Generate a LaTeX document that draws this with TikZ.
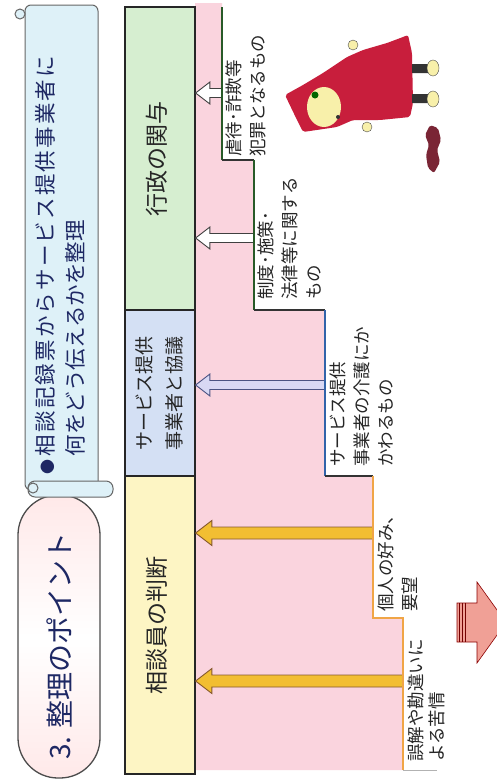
\documentclass[tikz,border=0pt]{standalone}
\usepackage{fontspec}
\setmainfont{Noto Sans CJK JP}
\usepackage{tikz}
\usetikzlibrary{calc}

\definecolor{memo}{RGB}{222,241,248}
\definecolor{navy}{RGB}{30,40,100}
\definecolor{kgreen}{RGB}{214,238,208}
\definecolor{kblue}{RGB}{212,224,244}
\definecolor{kyellow}{RGB}{253,245,196}
\definecolor{rosa}{RGB}{250,212,222}
\definecolor{dgreen}{RGB}{40,90,40}
\definecolor{sblue}{RGB}{50,100,170}
\definecolor{sorange}{RGB}{240,165,70}
\definecolor{lilac}{RGB}{216,216,244}
\definecolor{gold}{RGB}{242,190,50}
\definecolor{salmon}{RGB}{240,160,150}
\definecolor{hood}{RGB}{200,30,60}
\definecolor{skin}{RGB}{248,240,170}
\definecolor{maroon}{RGB}{122,37,53}

% vertical (rotated) lines of text
\newcommand{\vlines}[1]{\rotatebox{90}{\begin{tabular}{@{}l@{}}#1\end{tabular}}}
% block arrow: [style]{tail}{tip}{shaft half width}{head half width}
\newcommand{\fatarrow}[5][]{%
  \filldraw[#1] ($(#2)+(0,-#4)$) -- ($(#3)+({1.3*#5},-#4)$) -- ($(#3)+({1.3*#5},-#5)$) -- (#3)
    -- ($(#3)+({1.3*#5},#5)$) -- ($(#3)+({1.3*#5},#4)$) -- ($(#2)+(0,#4)$) -- cycle;}

\begin{document}
\begin{tikzpicture}[x=1pt, y=-1pt, thick,
        colbox/.style={draw=black!85, line width=1.2pt, minimum width=70pt, inner sep=0pt, text=black!85},
        steplabel/.style={anchor=south west, inner sep=0pt, text=black!85, font=\fontsize{17.5}{24}\selectfont},
        stepline/.style={line width=1.6pt},
        hollow/.style={fill=white, draw=black!75, line width=0.9pt},
        golden/.style={fill=gold, draw=brown!70!black, line width=0.9pt}]
        \useasboundingbox (0,0) rectangle (497,782);
        \clip (0,0) rectangle (497,782);
        \fill [white] (0,0) rectangle (497,782);

        % title pill and memo scroll
        \draw [draw=black!70, line width=1.3pt, rounded corners=40pt, top color=pink!35, bottom color=pink!35, middle color=white]
            (18,495) rectangle (100,778);
        \node[font=\fontsize{28}{30}\selectfont, text=navy] (title) at (59,646) {\rotatebox{90}{3. 整理のポイント}};

        \draw [fill=memo, draw=black!60, line width=1pt, rounded corners=6pt] (25,5) rectangle (98,490);
        \draw [fill=memo, draw=black!60, line width=1pt] (20,14) circle (5pt);
        \draw [fill=memo, draw=black!60, line width=1pt, rounded corners=7pt] (28,481) rectangle (113,497);
        \draw [fill=memo, draw=black!60, line width=1pt] (33,488) circle (5pt);
        \node[anchor=south west, inner sep=0pt, text=navy, font=\fontsize{21.5}{30}\selectfont] (memo) at (32,475)
            {\vlines{{\fontsize{15}{30}\selectfont ●}\,{\addfontfeature{LetterSpace=10}相談記録票からサービス提供事業者に}\\
                     \hphantom{{\fontsize{15}{30}\selectfont ●}\,}何をどう伝えるかを整理}};

        % staircase
        \coordinate (p0) at (222,7);
        \coordinate (p1) at (222,160);
        \coordinate (p2) at (254,160);
        \coordinate (p3) at (254,310);
        \coordinate (p4) at (325,310);
        \coordinate (p5) at (325,476);
        \coordinate (p6) at (373,476);
        \coordinate (p7) at (373,618);
        \coordinate (p8) at (403,618);
        \coordinate (p9) at (403,770);
        \fill [rosa] (195,3) -- (222,3) -- (p1) -- (p2) -- (p3) -- (p4) -- (p5) -- (p6) -- (p7) -- (p8) -- (p9) -- (195,770) -- cycle;

        % the three columns
        \node[colbox, fill=kgreen, minimum height=303pt, font=\fontsize{23}{28}\selectfont] (gyosei) at (160,158.5) {\vlines{行政の関与}};
        \node[colbox, fill=kblue, minimum height=166pt, font=\fontsize{19}{30}\selectfont] (kyogi) at (160,393) {\vlines{サービス提供\\事業者と協議}};
        \node[colbox, fill=kyellow, minimum height=298pt, font=\fontsize{23}{28}\selectfont] (handan) at (160,625) {\vlines{相談員の判断}};

        % arrows back to the columns
        \coordinate (t1) at (222,93);
        \coordinate (t2) at (254,238);
        \coordinate (t3) at (325,385);
        \coordinate (t4) at (373,533);
        \coordinate (t5) at (403,681);
        \path (gyosei.east |- t1) coordinate (h1) (gyosei.east |- t2) coordinate (h2)
              (kyogi.east |- t3) coordinate (h3)
              (handan.east |- t4) coordinate (h4) (handan.east |- t5) coordinate (h5);
        \fatarrow[hollow]{t1}{h1}{4.5}{11}
        \fatarrow[hollow]{t2}{h2}{4.5}{11}
        \fatarrow[hollow, fill=lilac, draw=navy!80]{t3}{h3}{4.5}{11}
        \fatarrow[golden]{t4}{h4}{6}{12.5}
        \fatarrow[golden]{t5}{h5}{6}{12.5}

        \draw [stepline, dgreen] (p0) -- (p1);
        \draw [stepline, black!80] (p1) -- (p2);
        \draw [stepline, dgreen] (p2) -- (p3);
        \draw [stepline, black!80] (p3) -- (p4);
        \draw [stepline, sblue] (p4) -- (p5);
        \draw [stepline, black!80] (p5) -- (p6);
        \draw [stepline, sorange] (p6) -- (p7) -- (p8) -- (p9);
        \draw [thin, gray!60] (p9) -- (437,770);

        \node[steplabel] (lab1) at (223,157) {\vlines{虐待･詐欺等\\犯罪となるもの}};
        \node[steplabel] (lab2) at (255,300) {\vlines{制度･施策･\\法律等に関する\\もの}};
        \node[steplabel] (lab3) at (327,467) {\vlines{サービス提供\\事業者の介護にか\\かわるもの}};
        \node[steplabel] (lab4) at (375,612) {\vlines{個人の好み、\\要望}};
        \node[steplabel, font=\fontsize{17.5}{21}\selectfont] (lab5) at (407,762) {\vlines{誤解や勘違いに\\よる苦情}};

        % big arrow to the right
        \filldraw [fill=salmon, draw=red!55!black, line width=0.6pt]
            (457,603) -- (477,603) -- (477,582) -- (506,622.5) -- (477,663) -- (477,642) -- (457,642) -- cycle;
        \foreach \sx in {459.5,462.5,465.5}
            \draw [red!45!black, line width=0.8pt] (\sx,603) -- (\sx,642);

        % little hooded figure
        \fill [hood, rounded corners=2pt] (285,95) -- (303,85) -- (323,73) -- (347,57) -- (363,50) -- (387,43)
            -- (403,37) -- (408,35) -- (412,53) -- (413,103) -- (410,117) -- (380,120) -- (353,120)
            -- (337,127) -- (303,132) -- (297,120) -- cycle;
        \fill [skin] (324,107) ellipse [x radius=17pt, y radius=20pt];
        \fill [green!40!black] (315,95) circle (3.5pt);
        \fill [black!80] (338,117) circle (2pt);
        \filldraw [fill=skin, draw=black!70, thin] (353,45) circle (5pt) (367,127) circle (5pt);
        \fill [black!80] (412,64) rectangle (428,73) (412,94) rectangle (428,103);
        \filldraw [fill=skin, draw=black!70, thin] (433,68) ellipse [x radius=6pt, y radius=8pt]
            (433,99) ellipse [x radius=6pt, y radius=8pt];
        \fill [maroon, rounded corners=2pt] (430,125) -- (438,128) -- (441,140) -- (437,150) -- (440,162)
            -- (434,173) -- (428,168) -- (426,155) -- (429,145) -- (425,135) -- cycle;

\end{tikzpicture}
\end{document}
